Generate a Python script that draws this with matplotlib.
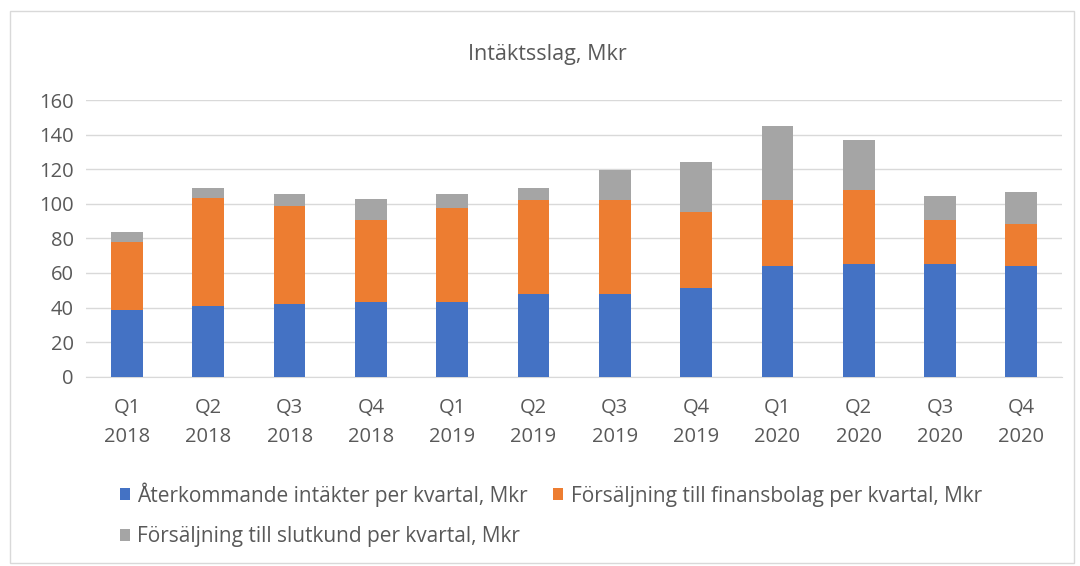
import numpy as np
import matplotlib.pyplot as plt
from matplotlib.patches import Rectangle

# data (Mkr)
quarters = ["Q1\n2018", "Q2\n2018", "Q3\n2018", "Q4\n2018",
            "Q1\n2019", "Q2\n2019", "Q3\n2019", "Q4\n2019",
            "Q1\n2020", "Q2\n2020", "Q3\n2020", "Q4\n2020"]
aterkommande = [38.4, 40.7, 41.9, 43.0, 43.0, 47.9, 47.9, 51.2, 64.1, 65.3, 65.3, 64.1]
finansbolag = [39.4, 62.8, 56.9, 47.7, 54.7, 54.4, 54.4, 44.2, 38.2, 42.8, 25.4, 24.3]
slutkund = [5.6, 5.5, 6.8, 12.3, 7.7, 6.7, 17.2, 28.7, 42.9, 28.8, 13.7, 18.6]

series_names = ["Återkommande intäkter per kvartal, Mkr",
                "Försäljning till finansbolag per kvartal, Mkr",
                "Försäljning till slutkund per kvartal, Mkr"]
colors = ["#4472C4", "#ED7D31", "#A5A5A5"]
txt = "#595959"

plt.rcParams['font.family'] = ['Open Sans', 'DejaVu Sans']

fig = plt.figure(figsize=(10.8, 5.66), dpi=100)
ax = fig.add_axes([0.08, 0.3345, 0.9033, 0.4888])

x = np.arange(len(quarters))
b1 = ax.bar(x, aterkommande, width=0.39, color=colors[0], label=series_names[0], zorder=3)
b2 = ax.bar(x, finansbolag, width=0.39, bottom=aterkommande, color=colors[1],
            label=series_names[1], zorder=3)
bottom2 = np.array(aterkommande) + np.array(finansbolag)
b3 = ax.bar(x, slutkund, width=0.39, bottom=bottom2, color=colors[2],
            label=series_names[2], zorder=3)

ax.set_xlim(-0.5, len(quarters) - 0.5)
ax.set_ylim(0, 160)
ax.set_yticks(range(0, 161, 20))
ax.yaxis.grid(True, color="#D9D9D9", linewidth=1, zorder=0)
ax.set_xticks(x)
ax.set_xticklabels(quarters, linespacing=1.6)
ax.tick_params(axis="both", length=0, colors=txt, labelsize=14.5)
ax.tick_params(axis="x", pad=15)
ax.tick_params(axis="y", pad=9)
for s in ["top", "right", "left"]:
    ax.spines[s].set_visible(False)
ax.spines["bottom"].set_color("#D9D9D9")

fig.text(0.507, 0.904, "Intäktsslag, Mkr", ha="center", va="center",
         color=txt, fontsize=15.5)

# order so row 1 = blue, orange; row 2 = gray (legend fills column-wise)
fig.legend(handles=[b1, b3, b2], ncol=2, loc="upper left",
           bbox_to_anchor=(0.103, 0.163), bbox_transform=fig.transFigure,
           frameon=False, fontsize=15, labelcolor=txt,
           handlelength=0.5, handleheight=0.5, handletextpad=0.35,
           columnspacing=1.2, borderaxespad=0, labelspacing=0.95)

# light chart frame
fig.patches.append(Rectangle((0.009, 0.005), 0.985, 0.975, transform=fig.transFigure,
                             fill=False, edgecolor="#D9D9D9", linewidth=1))

fig.savefig("out.png", dpi=100)
